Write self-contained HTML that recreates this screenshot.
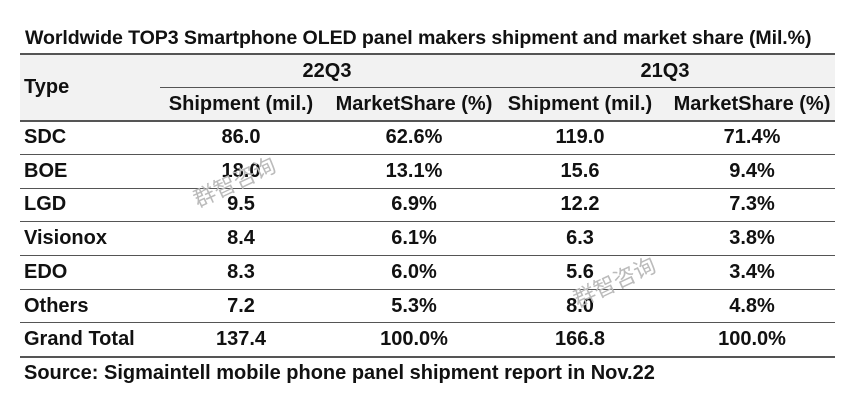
<!DOCTYPE html>
<html><head><style>
body{margin:0;width:865px;height:409px;background:#fff;font-family:"Liberation Sans",sans-serif;font-weight:bold;color:#111;position:relative;overflow:hidden}
.t{position:absolute;white-space:nowrap;font-size:20px;line-height:22px}
.c{transform:translateX(-50%)}
.l{position:absolute;left:20px;width:815px;height:1px;background:#555}
</style></head><body>
<div style="position:absolute;left:20px;top:54px;width:815px;height:66px;background:#f2f2f2"></div>
<div class="t" style="left:25px;top:27px;font-size:19.6px;letter-spacing:-0.1px">Worldwide TOP3 Smartphone OLED panel makers shipment and market share (Mil.%)</div>
<div class="l" style="top:53px;height:2px"></div>
<div class="l" style="left:160px;width:675px;top:87px"></div>
<div class="l" style="top:120px;height:2px"></div>
<div class="l" style="top:154px"></div>
<div class="l" style="top:188px"></div>
<div class="l" style="top:221px"></div>
<div class="l" style="top:255px"></div>
<div class="l" style="top:289px"></div>
<div class="l" style="top:322px"></div>
<div class="l" style="top:356px;height:2px"></div>
<div class="t" style="left:24px;top:76px">Type</div>
<div class="t c" style="left:327px;top:60px">22Q3</div>
<div class="t c" style="left:665px;top:60px">21Q3</div>
<div class="t c" style="left:241px;top:93px">Shipment (mil.)</div>
<div class="t c" style="left:414px;top:93px">MarketShare (%)</div>
<div class="t c" style="left:580px;top:93px">Shipment (mil.)</div>
<div class="t c" style="left:752px;top:93px">MarketShare (%)</div>
<div id="rows"></div>
<div class="t" style="left:24px;top:362px">Source: Sigmaintell mobile phone panel shipment report in Nov.22</div>
<div class="t" style="left:190px;top:170px;color:#bbb;font-size:22px;transform:rotate(-25deg);font-family:'Noto Sans CJK SC',sans-serif;font-weight:normal">群智咨询</div>
<div class="t" style="left:570px;top:270px;color:#bbb;font-size:22px;transform:rotate(-25deg);font-family:'Noto Sans CJK SC',sans-serif;font-weight:normal">群智咨询</div>
<script>
var d=[["SDC","86.0","62.6%","119.0","71.4%"],["BOE","18.0","13.1%","15.6","9.4%"],["LGD","9.5","6.9%","12.2","7.3%"],["Visionox","8.4","6.1%","6.3","3.8%"],["EDO","8.3","6.0%","5.6","3.4%"],["Others","7.2","5.3%","8.0","4.8%"],["Grand Total","137.4","100.0%","166.8","100.0%"]];
var xs=[241,414,580,752],h="";
d.forEach(function(r,i){var y=126+i*33.7;h+='<div class="t" style="left:24px;top:'+y+'px">'+r[0]+'</div>';
for(var j=1;j<5;j++)h+='<div class="t c" style="left:'+xs[j-1]+'px;top:'+y+'px">'+r[j]+'</div>';});
document.getElementById("rows").outerHTML=h;
</script>
</body></html>
